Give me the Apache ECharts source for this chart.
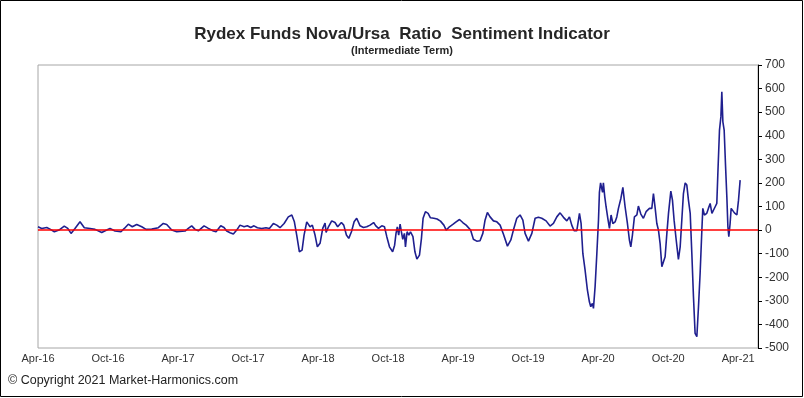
<!DOCTYPE html>
<html>
<head>
<meta charset="utf-8">
<script src="https://cdn.jsdelivr.net/npm/echarts@6/dist/echarts.min.js"></script>
<style>
html,body{margin:0;padding:0;background:#fff;}
#chart{width:804px;height:398px;}
</style>
</head>
<body>
<div id="chart"></div>
<script>
// x positions: months since April 2016
const months = [0,0.32,0.75,1.03,1.40,1.80,2.25,2.55,2.83,3.17,3.60,3.97,4.46,4.89,5.46,5.89,6.17,6.60,7.11,7.40,7.74,8.08,8.46,8.89,9.26,9.75,10.31,10.74,11.03,11.46,11.89,12.60,12.88,13.17,13.46,13.74,14.23,14.60,15.03,15.26,15.66,15.94,16.17,16.46,16.74,17.03,17.31,17.66,17.94,18.23,18.51,18.80,19.17,19.54,19.83,20.17,20.46,20.74,21.09,21.45,21.75,21.97,22.17,22.40,22.63,22.80,23.03,23.31,23.51,23.74,23.94,24.17,24.40,24.60,24.52,24.69,24.89,25.17,25.45,25.68,26.00,26.20,26.43,26.63,26.86,27.09,27.31,27.60,27.89,28.17,28.46,28.76,28.95,29.18,29.46,29.69,29.89,30.12,30.39,30.56,30.68,30.79,30.91,31.03,31.14,31.26,31.40,31.49,31.63,31.78,31.92,32.13,32.30,32.47,32.69,32.86,33.00,33.20,33.43,33.63,33.92,34.20,34.49,34.78,34.98,35.26,35.55,35.83,36.12,36.40,36.69,37.07,37.31,37.60,37.88,38.12,38.31,38.51,38.74,39.03,39.32,39.60,39.88,40.23,40.52,40.74,41.03,41.31,41.55,41.74,42.03,42.32,42.60,42.88,43.17,43.54,43.88,44.17,44.46,44.74,45.03,45.32,45.54,45.74,45.94,46.17,46.40,46.54,46.69,46.88,47.08,47.25,47.37,47.51,47.60,47.74,47.89,48.03,48.11,48.21,48.32,48.38,48.45,48.57,48.68,48.83,48.97,49.11,49.26,49.46,49.60,49.74,49.95,50.12,50.31,50.51,50.68,50.80,50.94,51.11,51.32,51.45,51.66,51.88,52.11,52.40,52.60,52.74,52.89,53.03,53.17,53.31,53.46,53.60,53.74,53.89,54.03,54.23,54.37,54.51,54.69,54.88,55.03,55.17,55.31,55.46,55.60,55.74,55.89,56.03,56.17,56.31,56.46,56.60,56.74,56.89,56.97,57.11,57.31,57.45,57.60,57.75,57.88,58.03,58.17,58.26,58.40,58.52,58.60,58.69,58.80,58.91,59.03,59.12,59.20,59.31,59.40,59.54,59.68,59.89,60.03,60.17];
const values = [14,7,11,4,-7,0,17,7,-14,7,35,10,7,3,-10,0,7,-4,-7,7,25,14,24,14,3,4,10,28,24,0,-7,-4,7,18,3,-3,18,7,-4,-7,18,11,-4,-11,-17,0,21,14,18,11,18,10,7,10,7,28,21,10,28,56,64,35,-21,-92,-85,-21,35,14,21,-21,-71,-56,7,30,10,-10,14,39,32,14,32,21,-21,-35,-7,35,50,18,11,14,21,32,18,7,18,14,-28,-71,-92,-64,-14,14,-21,25,-7,-39,-14,-71,-7,-21,-7,-28,-92,-123,-106,-35,50,78,71,52,50,47,38,21,0,14,24,35,45,32,21,0,-39,-47,-45,-14,42,75,56,39,35,21,-17,-68,-42,0,50,64,42,-14,-47,-14,50,54,50,39,17,28,56,73,54,39,56,21,-3,-3,71,28,-99,-169,-254,-304,-325,-311,-332,-240,-99,42,160,200,205,160,200,141,99,50,7,64,28,35,56,92,134,181,99,28,-42,-71,-21,56,64,102,68,50,78,92,92,155,92,28,0,-56,-155,-162,-113,-14,71,165,127,42,-42,-124,-71,42,155,200,191,127,71,-99,-283,-438,-452,-325,-183,0,92,64,71,92,113,71,64,99,113,240,424,480,586,459,424,283,141,14,-28,28,92,99,73,64,127,212];
const xTickLabels = ['Apr-16','Oct-16','Apr-17','Oct-17','Apr-18','Oct-18','Apr-19','Oct-19','Apr-20','Oct-20','Apr-21'];
const yMin = -500, yMax = 700, yStep = 100;
const titleText = 'Rydex Funds Nova/Ursa  Ratio  Sentiment Indicator';
const subtitleText = '(Intermediate Term)';
const copyrightText = '\u00A9 Copyright 2021 Market-Harmonics.com';

const pairs = months.map((m, i) => [m, values[i]]).sort((a, b) => a[0] - b[0]);
const sans = "'Liberation Sans', Arial, sans-serif";
const chart = echarts.init(document.getElementById('chart'), null, {renderer: 'canvas'});
chart.setOption({
  animation: false,
  backgroundColor: '#fff',
  title: [
    {text: titleText, left: 'center', top: 21, textStyle: {fontFamily: sans, fontSize: 17, fontWeight: 'bold', color: '#262626'}},
    {text: subtitleText, left: 'center', top: 40, textStyle: {fontFamily: sans, fontSize: 11, fontWeight: 'bold', color: '#262626'}}
  ],
  grid: {left: 38, right: 46, top: 65, bottom: 50, show: true, borderColor: '#a6a6a6', borderWidth: 1, backgroundColor: '#fff'},
  xAxis: {
    type: 'value', min: 0, max: 61.7, interval: 6,
    axisLine: {show: false}, axisTick: {show: false}, splitLine: {show: false},
    axisLabel: {margin: 5, fontFamily: sans, fontSize: 11, color: '#333',
      formatter: v => (Math.abs(v % 6) < 1e-6 && xTickLabels[v / 6]) ? xTickLabels[v / 6] : ''}
  },
  yAxis: {
    type: 'value', position: 'right', min: yMin, max: yMax, interval: yStep,
    axisLine: {show: true, onZero: false, lineStyle: {color: '#000', width: 1}},
    axisTick: {show: true, inside: false, length: 4, lineStyle: {color: '#000'}},
    splitLine: {show: false},
    axisLabel: {margin: 7, fontFamily: sans, fontSize: 12, color: '#333'}
  },
  series: [{
    type: 'line', data: pairs, showSymbol: false, smooth: false,
    lineStyle: {color: '#1f1f8f', width: 1.6},
    markLine: {silent: true, symbol: 'none', label: {show: false},
      lineStyle: {color: '#ff0000', width: 1.5, type: 'solid'}, data: [{yAxis: 0}]},
    z: 3
  }],
  graphic: [
    {type: 'text', left: 8, top: 374, style: {text: copyrightText, font: "12.5px " + sans, fill: '#222'}},
    {type: 'rect', shape: {x: 0.5, y: 0.5, width: 802, height: 396}, style: {fill: 'none', stroke: '#000', lineWidth: 1}, silent: true}
  ]
});
</script>
</body>
</html>
